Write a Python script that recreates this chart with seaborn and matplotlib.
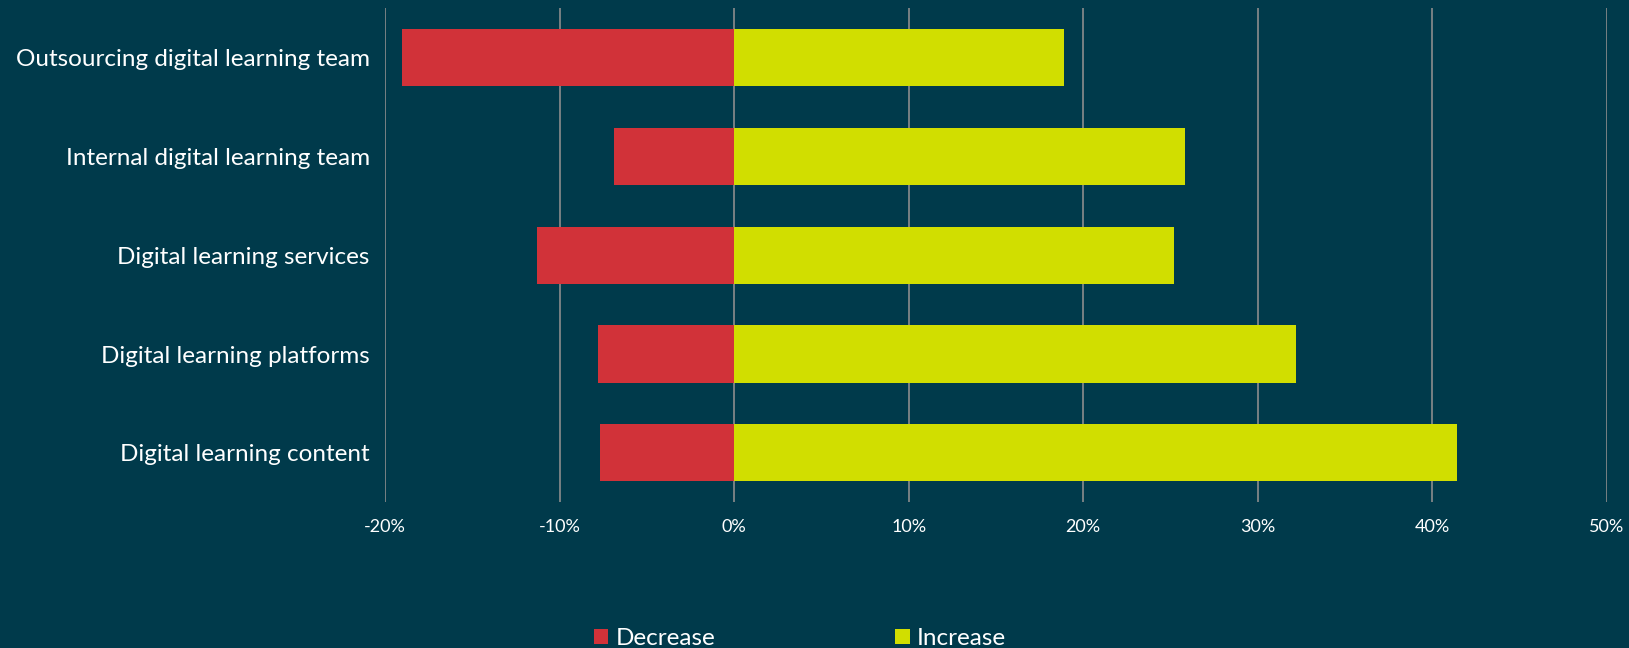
import matplotlib
matplotlib.use("Agg")
import matplotlib.pyplot as plt
import seaborn as sns
import pandas as pd
from matplotlib.patches import Patch
from matplotlib.ticker import FuncFormatter

categories = ["Outsourcing digital learning team", "Internal digital learning team",
              "Digital learning services", "Digital learning platforms", "Digital learning content"]
decrease = [-19.0, -6.9, -11.3, -7.8, -7.7]
increase = [18.9, 25.8, 25.2, 32.2, 41.4]
series_names = ["Decrease", "Increase"]
x_ticks = [-20, -10, 0, 10, 20, 30, 40, 50]

BG = "#003a4b"
RED = "#d13239"
YEL = "#d1de00"
GRID = "#8c8c8c"

df = pd.DataFrame({
    "category": categories * 2,
    "value": decrease + increase,
    "series": [series_names[0]] * len(categories) + [series_names[1]] * len(categories),
})

sns.set_theme(style="white")
plt.rcParams["font.family"] = ["Lato", "DejaVu Sans"]

fig = plt.figure(figsize=(16.29, 6.48), dpi=100, facecolor=BG)
ax = fig.add_axes([0.2363, 0.225, 0.7502, 0.762])
ax.set_facecolor(BG)

sns.barplot(data=df, x="value", y="category", hue="series", order=categories,
            hue_order=series_names, palette=[RED, YEL], dodge=False, width=0.58,
            orient="h", ax=ax, legend=False, linewidth=0, saturation=1)

ax.set_xlim(-20, 50)
ax.set_ylim(4.5, -0.5)
ax.set_xticks(x_ticks)
ax.xaxis.set_major_formatter(FuncFormatter(lambda v, p: f"{v:.0f}%"))
ax.grid(axis="x", color=GRID, linewidth=1.2, zorder=0)
ax.set_axisbelow(True)
for s in ax.spines.values():
    s.set_visible(False)
ax.tick_params(axis="x", colors="white", labelsize=13, length=0, pad=12)
ax.tick_params(axis="y", colors="white", labelsize=17.5, length=0, pad=11)
ax.set_xlabel("")
ax.set_ylabel("")

handles = [Patch(facecolor=RED, edgecolor="none", label=series_names[0]),
           Patch(facecolor=YEL, edgecolor="none", label=series_names[1])]
fig.legend(handles=handles, loc="lower center", bbox_to_anchor=(0.491, -0.035), ncol=2,
           frameon=False, fontsize=17.5, labelcolor="white", handlelength=0.6, handleheight=0.6,
           handletextpad=0.3, columnspacing=7.4)

fig.savefig("out.png", dpi=100, facecolor=BG)
